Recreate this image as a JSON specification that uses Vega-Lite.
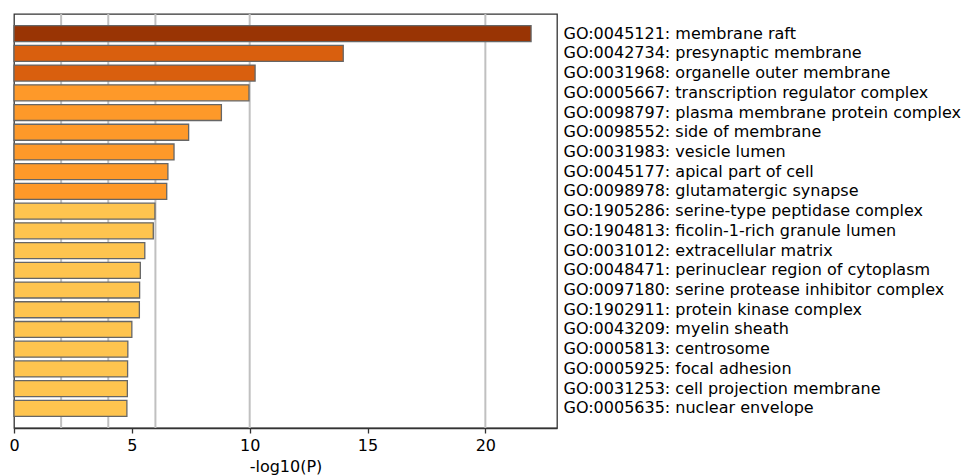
{
  "$schema": "https://vega.github.io/schema/vega-lite/v6.json",
  "autosize": "none",
  "padding": {"left": 14, "top": 14, "right": 409, "bottom": 47},
  "width": 543,
  "height": 414,
  "background": "white",
  "config": {
    "font": "DejaVu Sans",
    "view": {"stroke": "#333333", "strokeWidth": 1.3},
    "axis": {
      "labelFont": "DejaVu Sans",
      "titleFont": "DejaVu Sans",
      "labelColor": "#000000",
      "titleColor": "#000000",
      "titleFontWeight": "normal"
    }
  },
  "datasets": {
    "terms": [
      {"term": "GO:0045121: membrane raft", "logp": 21.94},
      {"term": "GO:0042734: presynaptic membrane", "logp": 13.97},
      {"term": "GO:0031968: organelle outer membrane", "logp": 10.23},
      {"term": "GO:0005667: transcription regulator complex", "logp": 9.97},
      {"term": "GO:0098797: plasma membrane protein complex", "logp": 8.8},
      {"term": "GO:0098552: side of membrane", "logp": 7.41},
      {"term": "GO:0031983: vesicle lumen", "logp": 6.79},
      {"term": "GO:0045177: apical part of cell", "logp": 6.53},
      {"term": "GO:0098978: glutamatergic synapse", "logp": 6.48},
      {"term": "GO:1905286: serine-type peptidase complex", "logp": 5.98},
      {"term": "GO:1904813: ficolin-1-rich granule lumen", "logp": 5.91},
      {"term": "GO:0031012: extracellular matrix", "logp": 5.55},
      {"term": "GO:0048471: perinuclear region of cytoplasm", "logp": 5.36},
      {"term": "GO:0097180: serine protease inhibitor complex", "logp": 5.33},
      {"term": "GO:1902911: protein kinase complex", "logp": 5.32},
      {"term": "GO:0043209: myelin sheath", "logp": 5.0},
      {"term": "GO:0005813: centrosome", "logp": 4.83},
      {"term": "GO:0005925: focal adhesion", "logp": 4.82},
      {"term": "GO:0031253: cell projection membrane", "logp": 4.81},
      {"term": "GO:0005635: nuclear envelope", "logp": 4.79}
    ],
    "thresholds": [
      {"cut": 2}, {"cut": 4}, {"cut": 6}, {"cut": 10}, {"cut": 20}
    ]
  },
  "layer": [
    {
      "data": {"name": "thresholds"},
      "mark": {"type": "rule", "color": "#c0c0c0", "strokeWidth": 2},
      "encoding": {
        "x": {"field": "cut", "type": "quantitative", "scale": {"domain": [0, 23.04], "nice": false, "zero": true}}
      }
    },
    {
      "data": {"name": "terms"},
      "mark": {"type": "bar", "stroke": "#666666", "strokeWidth": 1.3},
      "encoding": {
        "y": {
          "field": "term",
          "type": "nominal",
          "sort": null,
          "scale": {"paddingInner": 0.19, "paddingOuter": 0.59},
          "axis": {
            "orient": "right",
            "title": null,
            "ticks": false,
            "domain": false,
            "labelPadding": 6,
            "labelAlign": "left",
            "labelFontSize": 16,
            "labelLimit": 500
          }
        },
        "x": {
          "field": "logp",
          "type": "quantitative",
          "scale": {"domain": [0, 23.04], "nice": false},
          "axis": {
            "values": [0, 5, 10, 15, 20],
            "grid": false,
            "labelFlush": false,
            "title": "-log10(P)",
            "titleFontSize": 16,
            "titlePadding": 5,
            "labelFontSize": 16,
            "labelPadding": 4,
            "domainColor": "#333333",
            "domainWidth": 1.3,
            "tickColor": "#333333",
            "tickWidth": 1.3,
            "tickSize": 5
          }
        },
        "color": {
          "field": "logp",
          "type": "quantitative",
          "scale": {
            "type": "threshold",
            "domain": [6, 10, 20],
            "range": ["#fec44f", "#fe9929", "#d95f0e", "#993404"]
          },
          "legend": null
        }
      }
    }
  ]
}
